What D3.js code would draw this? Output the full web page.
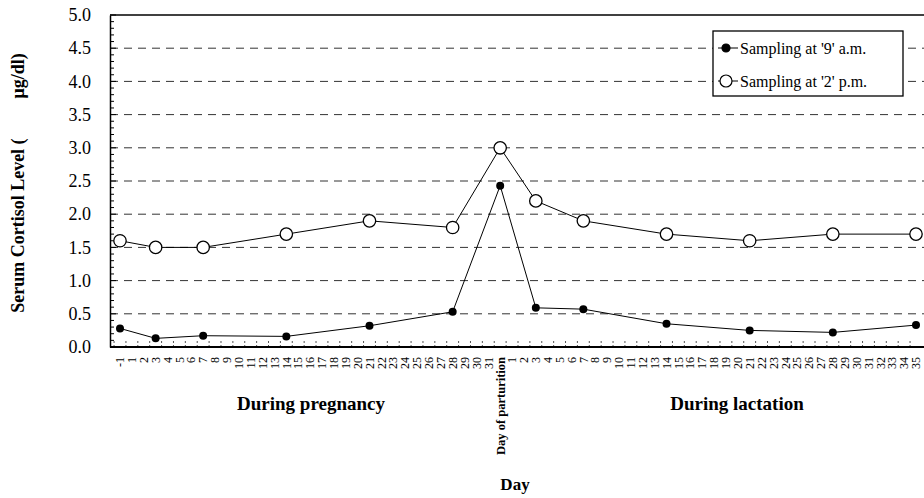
<!DOCTYPE html>
<html>
<head>
<meta charset="utf-8">
<script src="https://cdn.jsdelivr.net/npm/d3@7"></script>
<style>
  body { margin: 0; background: #fff; }
  text { font-family: "Liberation Serif", "Times New Roman", serif; fill: #000; }
</style>
</head>
<body>
<div class="canvas"></div>
<script>
// x categories: pregnancy days, parturition, lactation days
const pregnancyDays = ["-1", ...d3.range(1, 32).map(String)];
const partLabel = "Day of parturition";
const lactationDays = d3.range(1, 36).map(String);

// sampling days (keys into the category list)
const sampleDays = ["P-1", "P3", "P7", "P14", "P21", "P28", "Day of parturition",
                    "L3", "L7", "L14", "L21", "L28", "L35"];
const am9 = [0.28, 0.13, 0.17, 0.16, 0.32, 0.53, 2.43, 0.59, 0.57, 0.35, 0.25, 0.22, 0.33];
const pm2 = [1.6, 1.5, 1.5, 1.7, 1.9, 1.8, 3.0, 2.2, 1.9, 1.7, 1.6, 1.7, 1.7];

const yTicks = [0, 0.5, 1, 1.5, 2, 2.5, 3, 3.5, 4, 4.5, 5];
const seriesNames = ["Sampling at '9' a.m.", "Sampling at '2' p.m."];

//chart dimensions
const W = 924, H = 498;
const plot = { left: 110, right: 930, top: 15, bottom: 347 };
const serif = '"Liberation Serif", "Times New Roman", serif';

const cats = [...pregnancyDays.map(d => "P" + d), partLabel, ...lactationDays.map(d => "L" + d)];
const catLabel = k => k === partLabel ? k : k.slice(1);

const svg = d3.select('.canvas')
    .append('svg')
    .attr('width', W)
    .attr('height', H)
    .attr('font-family', serif);

const x = d3.scalePoint()
    .domain(cats)
    .range([120, 916]);

const y = d3.scaleLinear()
    .domain([0, 5])
    .range([plot.bottom, plot.top]);

//dashed gridlines
svg.append('g')
    .selectAll('line')
    .data(yTicks.filter(d => d > 0 && d < 5))
    .enter().append('line')
        .attr('x1', plot.left).attr('x2', plot.right)
        .attr('y1', d => y(d)).attr('y2', d => y(d))
        .attr('stroke', '#333')
        .attr('stroke-width', 1)
        .attr('stroke-dasharray', '8,6');

//top frame line
svg.append('line')
    .attr('x1', plot.left).attr('x2', plot.right)
    .attr('y1', y(5)).attr('y2', y(5))
    .attr('stroke', '#000').attr('stroke-width', 1.5);

//y axis with inside ticks
const yAxis = svg.append('g')
    .attr('transform', `translate(${plot.left},0)`)
    .call(d3.axisLeft(y).tickValues(yTicks).tickFormat(d3.format('.1f')).tickSize(0).tickPadding(19));
yAxis.attr('font-family', serif).attr('font-size', 18);
yAxis.select('.domain').attr('stroke', '#000').attr('stroke-width', 1.5);

svg.append('g')
    .selectAll('line')
    .data(d3.range(0, 51).map(i => i / 10))
    .enter().append('line')
        .attr('x1', plot.left)
        .attr('x2', (d, i) => plot.left + (i % 5 === 0 ? 6 : 4))
        .attr('y1', d => y(d)).attr('y2', d => y(d))
        .attr('stroke', '#000').attr('stroke-width', 1);

//x axis: category boundary ticks pointing up
const step = x.step();
svg.append('g')
    .selectAll('line')
    .data(cats)
    .enter().append('line')
        .attr('x1', d => x(d) - step / 2).attr('x2', d => x(d) - step / 2)
        .attr('y1', plot.bottom).attr('y2', plot.bottom - 8)
        .attr('stroke', '#555')
        .attr('stroke-width', 1)
        .attr('stroke-dasharray', '2,2');

svg.append('line')
    .attr('x1', plot.left).attr('x2', plot.right)
    .attr('y1', plot.bottom).attr('y2', plot.bottom)
    .attr('stroke', '#000').attr('stroke-width', 2.2);

//rotated category labels
svg.append('g')
    .selectAll('text')
    .data(cats)
    .enter().append('text')
        .attr('transform', d => `translate(${x(d)},${plot.bottom + 10}) rotate(-90)`)
        .attr('dy', '0.35em')
        .attr('text-anchor', 'end')
        .style('font-size', d => d === partLabel ? '12.5px' : '12px')
        .style('font-weight', d => d === partLabel ? 'bold' : 'normal')
        .text(catLabel);

//period labels
svg.append('text')
    .attr('x', 311)
    .attr('y', 410)
    .attr('text-anchor', 'middle')
    .style('font-size', '19px').style('font-weight', 'bold')
    .text('During pregnancy');

svg.append('text')
    .attr('x', 737)
    .attr('y', 410)
    .attr('text-anchor', 'middle')
    .style('font-size', '19px').style('font-weight', 'bold')
    .text('During lactation');

svg.append('text')
    .attr('x', 515)
    .attr('y', 490)
    .attr('text-anchor', 'middle')
    .style('font-size', '17px').style('font-weight', 'bold')
    .text('Day');

//y axis title
const yTitle = svg.append('text')
    .attr('transform', `translate(24,${(plot.top + plot.bottom) / 2 + 2}) rotate(-90)`)
    .attr('text-anchor', 'middle')
    .style('font-size', '18px').style('font-weight', 'bold');
yTitle.append('tspan').text('Serum Cortisol Level (');
yTitle.append('tspan').attr('dx', 40).text('\u03bcg/dl)');

//series
const line = d3.line()
    .x(d => x(d.day))
    .y(d => y(d.value));

const amData = sampleDays.map((day, i) => ({ day, value: am9[i] }));
const pmData = sampleDays.map((day, i) => ({ day, value: pm2[i] }));

svg.append('path')
    .attr('d', line(pmData))
    .attr('fill', 'none').attr('stroke', '#000').attr('stroke-width', 1);
svg.append('path')
    .attr('d', line(amData))
    .attr('fill', 'none').attr('stroke', '#000').attr('stroke-width', 1);

svg.append('g').selectAll('circle')
    .data(pmData)
    .enter().append('circle')
        .attr('cx', d => x(d.day)).attr('cy', d => y(d.value))
        .attr('r', 6.2)
        .attr('fill', '#fff').attr('stroke', '#000').attr('stroke-width', 1.3);

svg.append('g').selectAll('circle')
    .data(amData)
    .enter().append('circle')
        .attr('cx', d => x(d.day)).attr('cy', d => y(d.value))
        .attr('r', 4)
        .attr('fill', '#000');

//legend
const legend = svg.append('g').attr('transform', 'translate(713,31)');
legend.append('rect')
    .attr('width', 190).attr('height', 65)
    .attr('fill', '#fff').attr('stroke', '#000').attr('stroke-width', 1.3);

const rows = legend.selectAll('g.row')
    .data(seriesNames)
    .enter().append('g')
        .attr('class', 'row')
        .attr('transform', (d, i) => `translate(0,${17 + i * 33})`);
rows.append('line')
    .attr('x1', 5).attr('x2', 25)
    .attr('stroke', '#000').attr('stroke-width', 1);
rows.append('circle')
    .attr('cx', 13)
    .attr('r', (d, i) => i === 0 ? 4 : 6)
    .attr('fill', (d, i) => i === 0 ? '#000' : '#fff')
    .attr('stroke', '#000').attr('stroke-width', 1.2);
rows.append('text')
    .attr('x', 27)
    .attr('dy', '0.35em')
    .style('font-size', '16px')
    .text(d => d);
</script>
</body>
</html>
